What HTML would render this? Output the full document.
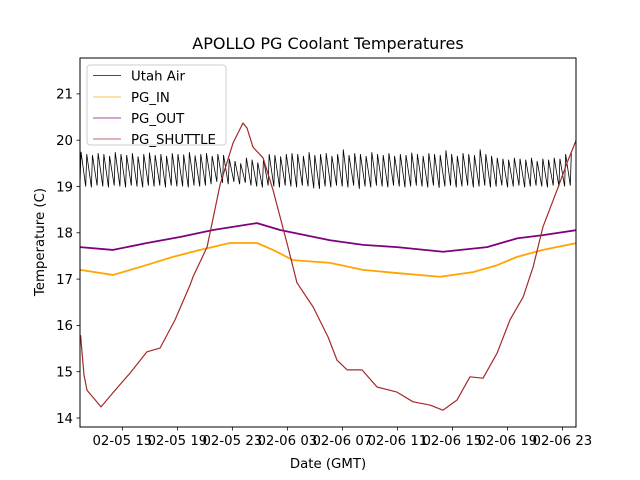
<!DOCTYPE html>
<html><head><meta charset="utf-8"><style>
body{margin:0;background:#fff;}
svg{display:block;font-family:"DejaVu Sans","Liberation Sans",sans-serif;}
</style></head><body>
<svg id="chart" width="640" height="480" viewBox="0 0 640 480">
<rect width="640" height="480" fill="#fff"/>
<text x="328" y="49" font-size="16" text-anchor="middle">APOLLO PG Coolant Temperatures</text>
<defs><clipPath id="clip"><rect x="80" y="58" width="496" height="369"/></clipPath></defs>
<g id="series" clip-path="url(#clip)"></g>
<rect x="80" y="58" width="496" height="369" fill="none" stroke="#000" stroke-width="1"/>
<g id="xticks"></g>
<g id="yticks"></g>
<text x="328" y="468" font-size="13.3" text-anchor="middle">Date (GMT)</text>
<text x="0" y="0" font-size="13.3" text-anchor="middle" transform="translate(44,242) rotate(-90)">Temperature (C)</text>
<g>
<rect x="87" y="65" width="139" height="80" rx="3" fill="#fff" fill-opacity="0.8" stroke="#ccc"/>
<line x1="93" y1="75.5" x2="121" y2="75.5" stroke="#000" stroke-opacity="0.7"/>
<text x="131" y="80.5" font-size="13.3">Utah Air</text>
<line x1="93" y1="97" x2="121" y2="97" stroke="orange" stroke-opacity="0.7"/>
<text x="131" y="102" font-size="13.3">PG_IN</text>
<line x1="93" y1="118" x2="121" y2="118" stroke="purple" stroke-opacity="0.7"/>
<text x="131" y="123" font-size="13.3">PG_OUT</text>
<line x1="93" y1="139" x2="121" y2="139" stroke="brown" stroke-opacity="0.7"/>
<text x="131" y="144" font-size="13.3">PG_SHUTTLE</text>
</g>
</svg>
<script>
// x in hours since 02-05 00:00 GMT
const xTickHours = [15,19,23,27,31,35,39,43,47];
const xTickLabels = ["02-05 15","02-05 19","02-05 23","02-06 03","02-06 07","02-06 11","02-06 15","02-06 19","02-06 23"];
const yTicks = [14,15,16,17,18,19,20,21];
const shuttleT = [11.96,12.21,12.43,13.45,14.47,15.56,16.79,17.74,18.83,19.92,20.14,21.16,22.10,23.05,23.77,24.07,24.50,25.23,25.96,26.97,27.70,28.87,29.96,30.61,31.34,32.43,33.52,34.97,36.14,37.37,38.32,39.34,40.28,41.23,42.25,43.19,44.14,44.87,45.59,46.61,47.34,48.07];
const shuttleV = [15.79,14.93,14.6,14.24,14.6,14.97,15.43,15.51,16.12,16.87,17.05,17.69,19.03,19.94,20.37,20.26,19.85,19.62,18.92,17.78,16.92,16.40,15.75,15.25,15.04,15.04,14.67,14.56,14.35,14.28,14.17,14.39,14.89,14.86,15.40,16.12,16.61,17.26,18.13,18.92,19.51,20.05];
const inT = [11.92,14.32,16.28,18.68,20.65,22.83,24.79,25.96,27.41,30.10,32.50,34.97,38.10,40.50,42.25,43.70,45.59,48.07];
const inV = [17.20,17.09,17.26,17.48,17.63,17.78,17.78,17.63,17.41,17.35,17.20,17.13,17.05,17.15,17.30,17.48,17.63,17.78];
const outT = [11.92,14.32,16.79,19.19,21.59,24.79,26.47,30.10,32.50,34.97,38.32,41.52,43.70,45.59,48.07];
const outV = [17.69,17.63,17.78,17.91,18.06,18.21,18.06,17.84,17.74,17.69,17.59,17.69,17.88,17.95,18.06];
const airPeaks = [19.75,19.7,19.68,19.72,19.7,19.66,19.74,19.7,19.68,19.72,19.65,19.7,19.73,19.68,19.7,19.66,19.72,19.7,19.69,19.74,19.67,19.7,19.72,19.66,19.7,19.68,19.6,19.55,19.5,19.62,19.58,19.52,19.6,19.7,19.68,19.65,19.7,19.72,19.7,19.66,19.74,19.68,19.7,19.72,19.66,19.7,19.8,19.68,19.72,19.7,19.66,19.74,19.7,19.68,19.72,19.66,19.7,19.68,19.73,19.7,19.66,19.72,19.7,19.68,19.78,19.7,19.66,19.72,19.7,19.68,19.8,19.7,19.66,19.62,19.6,19.58,19.62,19.6,19.58,19.62,19.55,19.6,19.58,19.62,19.6,19.7,19.72];
const airTroughs = [19.02,19.0,18.98,19.02,19.0,18.98,19.02,19.0,18.98,19.02,19.0,18.98,19.02,19.0,19.02,18.98,19.02,19.0,19.0,18.98,19.02,19.0,19.02,19.05,19.1,19.08,19.05,19.1,19.05,19.08,19.02,19.0,18.98,19.02,19.0,18.98,19.02,19.0,18.98,19.02,19.0,18.96,18.95,19.0,18.98,19.02,19.0,18.98,19.02,18.95,19.0,18.98,19.02,19.0,18.98,19.02,19.0,18.98,19.0,19.02,19.0,18.98,19.02,18.97,19.0,19.02,18.98,19.0,19.02,18.98,19.0,19.02,18.98,19.0,19.02,18.98,19.0,19.02,18.98,19.0,19.02,19.0,18.98,19.02,19.0,19.0,19.02];
const xMin = 11.92, xMax = 47.99, yMin = 13.806, yMax = 21.775;
const L=80,T=58,W=496,H=369;
function X(h){return L+(h-xMin)/(xMax-xMin)*W;}
function Y(v){return T+(yMax-v)/(yMax-yMin)*H;}
const NS="http://www.w3.org/2000/svg";
function mk(tag,attrs,parent){const e=document.createElementNS(NS,tag);for(const k in attrs)e.setAttribute(k,attrs[k]);parent.appendChild(e);return e;}
const series=document.getElementById('series');
const period=(xMax-xMin)/airPeaks.length;
let d="";
for(let i=0;i<airPeaks.length;i++){
  const t0=xMin+i*period;
  d+=(i?"L":"M")+X(t0).toFixed(2)+","+Y(airTroughs[i]).toFixed(2)+"L"+X(t0+period*0.18).toFixed(2)+","+Y(airPeaks[i]).toFixed(2);
}
const air=mk('path',{d:d,fill:"none",stroke:"#000","stroke-width":0.8},series);


function line(ts,vs,color,w){
  const p=ts.map((t,i)=>(i?"L":"M")+X(t).toFixed(2)+","+Y(vs[i]).toFixed(2)).join("");
  return mk('path',{d:p,fill:"none",stroke:color,"stroke-width":w,"stroke-linejoin":"round"},series);
}
const inL=line(inT,inV,"orange",1.8);


const outL=line(outT,outV,"purple",1.8);


const shL=line(shuttleT,shuttleV,"brown",1.2);


const xg=document.getElementById('xticks');
xTickHours.forEach((h,i)=>{
  const x=X(h);
  const tk=mk('line',{x1:x,y1:427,x2:x,y2:430.5,stroke:"#000","stroke-width":0.8},xg);
  
  
  const tx=mk('text',{x:x,y:445,"font-size":13.3,"text-anchor":"middle"},xg);
  tx.textContent=xTickLabels[i];
  
  
});
const yg=document.getElementById('yticks');
yTicks.forEach(v=>{
  const y=Y(v);
  const tk=mk('line',{x1:76.5,y1:y,x2:80,y2:y,stroke:"#000","stroke-width":0.8},yg);
  
  
  const tx=mk('text',{x:73,y:y+4.8,"font-size":13.3,"text-anchor":"end"},yg);
  tx.textContent=String(v);
  
  
});
</script>
</body></html>
